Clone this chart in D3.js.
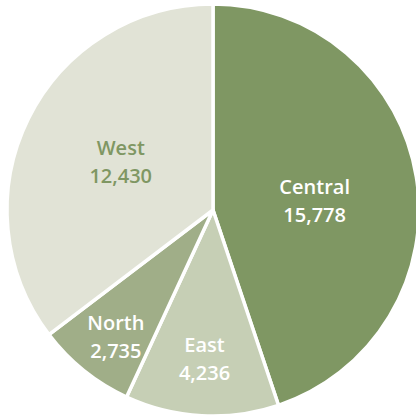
<!DOCTYPE html>
<html>
<head>
<meta charset="utf-8">
<script src="https://cdn.jsdelivr.net/npm/d3@7"></script>
<style>
  html, body { margin: 0; padding: 0; background: #ffffff; }
  svg { display: block; }
</style>
</head>
<body>
<svg id="chart" width="416" height="416"></svg>
<script>
// Regional totals, clockwise from 12 o'clock
const regions = ["Central", "East", "North", "West"];
const totals = [15778, 4236, 2735, 12430];
const sliceColors = ["#7f9763", "#c6cfb5", "#a0ae88", "#e1e3d6"];
const labelColors = ["#ffffff", "#ffffff", "#ffffff", "#7f9763"];

// Label layout: distance from centre and a small vertical nudge per slice
const labelRadius = [103, 155, 155, 103];
const labelNudge = [8, -6, 6, -2];

const cx = 213, cy = 210, radius = 206;

const svg = d3.select("#chart");
const g = svg.append("g").attr("transform", `translate(${cx},${cy})`);

const data = regions.map((name, i) => ({ name, value: totals[i], i }));

const pie = d3.pie().value(d => d.value).sort(null);
const arcs = pie(data);

const arc = d3.arc().innerRadius(0).outerRadius(radius);

g.selectAll("path.slice")
  .data(arcs)
  .join("path")
  .attr("class", "slice")
  .attr("d", arc)
  .attr("fill", d => sliceColors[d.data.i])
  .attr("stroke", "#ffffff")
  .attr("stroke-width", 3.5)
  .attr("stroke-linejoin", "round");

const fmt = d3.format(",");

const labels = g.selectAll("text.lbl")
  .data(arcs)
  .join("text")
  .attr("class", "lbl")
  .attr("transform", d => {
    const r = labelRadius[d.data.i];
    const [x, y] = d3.arc().innerRadius(r).outerRadius(r).centroid(d);
    return `translate(${x},${y + labelNudge[d.data.i]})`;
  })
  .attr("text-anchor", "middle")
  .attr("font-family", "'Open Sans', sans-serif")
  .attr("font-weight", 600)
  .attr("font-size", 20)
  .attr("fill", d => labelColors[d.data.i]);

labels.append("tspan")
  .attr("x", 0)
  .attr("y", -7)
  .text(d => d.data.name);

labels.append("tspan")
  .attr("x", 0)
  .attr("y", 21)
  .text(d => fmt(d.data.value));
</script>
</body>
</html>
